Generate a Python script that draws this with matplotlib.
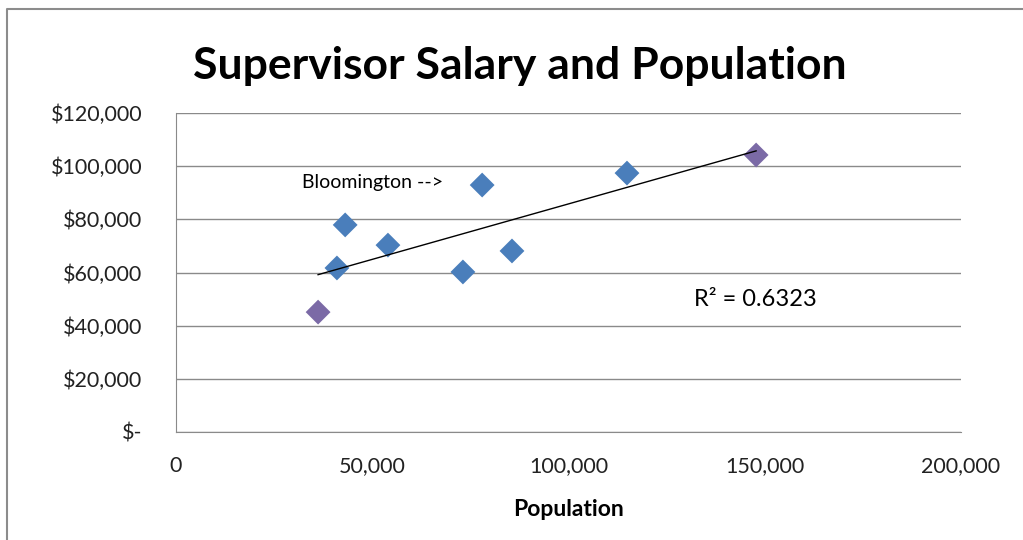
import numpy as np
import matplotlib.pyplot as plt
from matplotlib.lines import Line2D
from matplotlib.ticker import FuncFormatter

population = [36200, 41000, 43100, 54000, 73100, 78000, 85600, 114900, 147800]
salary = [45100, 61700, 77900, 70300, 60200, 92900, 68100, 97400, 104200]
colors = ['#7b6aa6', '#4a7ebb', '#4a7ebb', '#4a7ebb', '#4a7ebb',
          '#4a7ebb', '#4a7ebb', '#4a7ebb', '#7b6aa6']

plt.rcParams['font.family'] = ['Lato', 'DejaVu Sans']

fig = plt.figure(figsize=(10.23, 5.4), dpi=100)
ax = fig.add_axes([176 / 1023, 1 - 432 / 540, 785 / 1023, 319 / 540])

ax.scatter(population, salary, marker='D', s=160, c=colors,
           edgecolors='none', zorder=3)

# linear trendline
m, b = np.polyfit(population, salary, 1)
xs = np.array([min(population), max(population)])
ax.plot(xs, m * xs + b, color='black', lw=1, zorder=4)

ax.set_xlim(0, 200000)
ax.set_ylim(0, 120000)
ax.set_xticks([0, 50000, 100000, 150000, 200000])
ax.set_yticks(np.arange(0, 120001, 20000))
ax.xaxis.set_major_formatter(FuncFormatter(lambda v, p: f'{int(v):,}'))
ax.yaxis.set_major_formatter(
    FuncFormatter(lambda v, p: '$-' if v == 0 else f'${int(v):,}'))
ax.tick_params(length=0, labelsize=15.5, colors='#222222')
ax.tick_params(axis='x', pad=17)
ax.tick_params(axis='y', pad=24)

ax.grid(axis='y', color='#8a8a8a', lw=1)
ax.set_axisbelow(True)
for s in ['top', 'right']:
    ax.spines[s].set_visible(False)
for s in ['left', 'bottom']:
    ax.spines[s].set_color('#8a8a8a')

ax.set_xlabel('Population', fontsize=16.5, fontweight='bold', labelpad=17)

ax.text(32000, 94000, 'Bloomington -->', fontsize=14, va='center')
ax.text(132000, 50000, 'R² = 0.6323', fontsize=17, va='center')

fig.text(0.508, 0.877, 'Supervisor Salary and Population', ha='center',
         va='center', fontsize=32, fontweight='bold')

# chart border (left and top edges visible in the crop)
fig.add_artist(Line2D([7 / 1023, 7 / 1023, 1], [0, 1 - 9 / 540, 1 - 9 / 540],
                      transform=fig.transFigure, color='#8c8c8c', lw=1.5))

fig.savefig('out.png', dpi=100)
